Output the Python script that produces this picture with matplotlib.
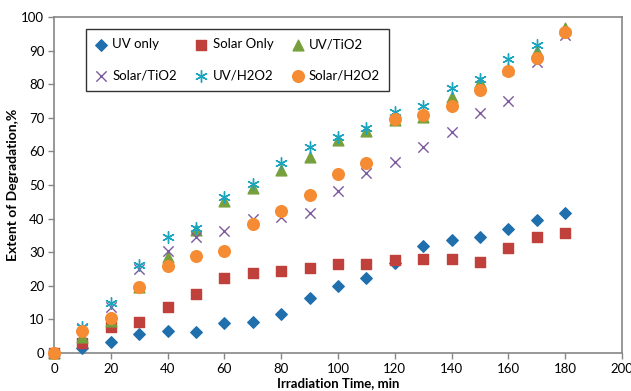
import numpy as np
import matplotlib.pyplot as plt

plt.rcParams['font.family'] = ['Lato', 'DejaVu Sans']

# irradiation time, min
t = [0, 10, 20, 30, 40, 50, 60, 70, 80, 90, 100, 110, 120, 130, 140, 150, 160, 170, 180]

uv_only = [0, 1.5, 3.3, 5.6, 6.6, 6.3, 8.9, 9.2, 11.6, 16.4, 19.9, 22.3, 26.8, 31.8, 33.6, 34.6, 36.9, 39.6, 41.6]
solar_only = [0, 3.0, 7.8, 9.2, 13.8, 17.6, 22.4, 23.9, 24.4, 25.3, 26.5, 26.5, 27.7, 28.0, 28.1, 27.1, 31.2, 34.5, 35.8]
uv_tio2 = [0, 4.8, 9.5, 19.6, 28.5, 36.6, 45.3, 49.0, 54.5, 58.3, 63.4, 66.0, 69.3, 70.3, 76.3, 80.7, 84.5, 90.0, 96.7]
solar_tio2 = [0, 7.4, 13.8, 24.9, 30.4, 34.6, 36.4, 39.8, 40.5, 41.6, 48.2, 53.5, 56.9, 61.4, 65.7, 71.4, 75.0, 86.6, 94.5]
uv_h2o2 = [0, 7.7, 14.9, 26.2, 34.6, 37.2, 46.5, 50.3, 56.6, 61.4, 64.3, 66.9, 71.8, 73.5, 78.8, 81.5, 87.5, 91.7, 95.5]
solar_h2o2 = [0, 6.5, 10.4, 19.6, 26.0, 29.0, 30.4, 38.4, 42.3, 47.0, 53.3, 56.5, 69.6, 70.8, 73.5, 78.3, 84.0, 87.8, 95.5]

fig = plt.figure(figsize=(6.31, 3.91), dpi=100)
ax = fig.add_axes([0.0856, 0.0972, 0.9002, 0.8593])

h1 = ax.scatter(t, uv_only, marker='D', s=34, color='#1f6fad', label='UV only', zorder=3, clip_on=False)
h2 = ax.scatter(t, solar_only, marker='s', s=50, color='#c0403c', label='Solar Only', zorder=3, clip_on=False)
h3 = ax.scatter(t, uv_tio2, marker='^', s=60, color='#77a03c', label='UV/TiO2', zorder=3, clip_on=False)
h4 = ax.scatter(t, solar_tio2, marker='x', s=55, color='#7d5a9e', linewidths=1.0, label='Solar/TiO2', zorder=3, clip_on=False)
h5 = ax.scatter(t, uv_h2o2, marker=(6, 2, 0), s=70, color='#1ba4be', linewidths=1.0, label='UV/H2O2', zorder=3, clip_on=False)
h6 = ax.scatter(t, solar_h2o2, marker='o', s=70, color='#f58b32', label='Solar/H2O2', zorder=4, clip_on=False)

ax.set_xlim(0, 200)
ax.set_ylim(0, 100)
ax.set_xticks(np.arange(0, 201, 20))
ax.set_yticks(np.arange(0, 101, 10))
ax.tick_params(labelsize=9.5, length=4, color='#868686', width=1, pad=3)
for s in ax.spines.values():
    s.set_color('#868686')
    s.set_linewidth(1.2)

ax.set_xlabel('Irradiation Time, min', fontsize=9.5, fontweight='bold', labelpad=2)
ax.set_ylabel('Extent of Degradation,%', fontsize=10, fontweight='bold', labelpad=2)

# legend fills column-wise, so order handles to read row-wise like the original
hs = [h1, h4, h2, h5, h3, h6]
leg = ax.legend(hs, [h.get_label() for h in hs], ncol=3, loc='upper left',
                bbox_to_anchor=(0.0563, 0.964), fontsize=9.5,
                frameon=True, fancybox=False, edgecolor='black', handletextpad=0.4,
                columnspacing=1.4, labelspacing=1.45, borderpad=0.7, scatterpoints=1,
                handlelength=0.9, borderaxespad=0)
leg.get_frame().set_linewidth(1.0)

plt.savefig('out.png', dpi=100)
